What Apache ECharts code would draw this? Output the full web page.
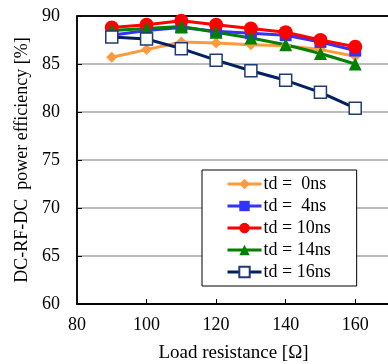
<!DOCTYPE html>
<html>
<head>
<meta charset="utf-8">
<script src="https://cdn.jsdelivr.net/npm/echarts@6/dist/echarts.min.js"></script>
<style>
  html, body { margin: 0; padding: 0; background: #fff; }
  #chart { width: 388px; height: 364px; }
</style>
</head>
<body>
<div id="chart"></div>
<script>
// load resistance [ohm]
const loads = [90, 100, 110, 120, 130, 140, 150, 160];

// efficiency [%] per dead time
const td0 = [85.7, 86.5, 87.3, 87.2, 87.0, 86.9, 86.5, 85.8];
const td4 = [88.0, 88.5, 88.8, 88.4, 88.2, 88.0, 87.3, 86.4];
const td10 = [88.8, 89.1, 89.5, 89.1, 88.7, 88.3, 87.5, 86.8];
const td14 = [88.5, 88.7, 88.9, 88.3, 87.7, 87.0, 86.1, 85.0];
const td16 = [87.8, 87.6, 86.6, 85.4, 84.3, 83.3, 82.05, 80.4];

const seriesNames = ['td =  0ns', 'td =  4ns', 'td = 10ns', 'td = 14ns', 'td = 16ns'];

const font = 'Liberation Serif, Times New Roman, serif';
const pair = arr => arr.map((v, i) => [loads[i], v]);

const chart = echarts.init(document.getElementById('chart'));

function line(name, data, color, symbol, size, extra) {
  return Object.assign({
    name: name,
    type: 'line',
    data: pair(data),
    symbol: symbol,
    symbolSize: size,
    showAllSymbol: true,
    lineStyle: { color: color, width: 3 },
    itemStyle: { color: color },
    emphasis: { disabled: true },
    animation: false
  }, extra || {});
}

chart.setOption({
  animation: false,
  grid: {
    left: 77, top: 16, width: 313, height: 288,
    outerBoundsMode: 'none',
    show: true, borderColor: '#000', borderWidth: 1.5, backgroundColor: 'transparent'
  },
  legend: {
    orient: 'vertical',
    left: 202, top: 170,
    padding: [5, 26, 5, 24],
    itemGap: 4,
    itemWidth: 34,
    itemHeight: 13,
    backgroundColor: '#fff',
    borderColor: '#000',
    borderWidth: 1,
    borderRadius: 0,
    lineStyle: { width: 3 },
    textStyle: { fontFamily: font, fontSize: 18, color: '#000', padding: [0, 0, 0, -3] },
    data: seriesNames
  },
  xAxis: {
    type: 'value',
    min: 80, max: 170, interval: 20,
    name: 'Load resistance [Ω]',
    nameLocation: 'middle',
    nameGap: 40,
    nameTextStyle: { fontFamily: font, fontSize: 19, color: '#000' },
    axisLine: { lineStyle: { color: '#000', width: 1.5 } },
    axisTick: { inside: true, length: 5, lineStyle: { color: '#000' } },
    axisLabel: { fontFamily: font, fontSize: 18, color: '#000', margin: 12, showMaxLabel: false },
    splitLine: { show: false }
  },
  yAxis: {
    type: 'value',
    min: 60, max: 90, interval: 5,
    name: 'DC-RF-DC  power efficiency [%]',
    nameLocation: 'middle',
    nameGap: 46,
    nameTextStyle: { fontFamily: font, fontSize: 18, color: '#000' },
    axisLine: { lineStyle: { color: '#000', width: 1.5 } },
    axisTick: { inside: true, length: 5, lineStyle: { color: '#000' } },
    axisLabel: { fontFamily: font, fontSize: 18, color: '#000', margin: 17 },
    splitLine: {
      lineStyle: {
        color: ['#000', '#a6a6a6', '#a6a6a6', '#a6a6a6', '#a6a6a6', '#a6a6a6', '#000'],
        width: 1.5
      }
    }
  },
  series: [
    line(seriesNames[0], td0, '#ff9a3c', 'diamond', 11),
    line(seriesNames[1], td4, '#3333ff', 'rect', 12),
    line(seriesNames[2], td10, '#ff0000', 'circle', 14),
    line(seriesNames[3], td14, '#008000', 'triangle', 13),
    line(seriesNames[4], td16, '#002060', 'rect', 12, {
      itemStyle: { color: '#fff', borderColor: '#1f3b73', borderWidth: 1.5 }
    })
  ]
});
</script>
</body>
</html>
